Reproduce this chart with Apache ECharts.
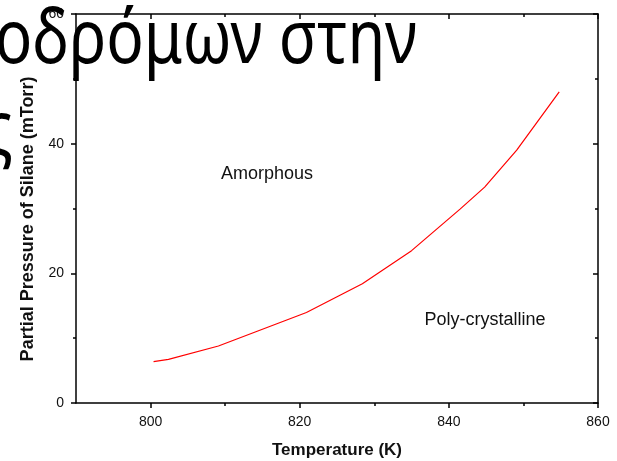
<!DOCTYPE html>
<html lang="en">
<head>
    <meta charset="UTF-8">
    <title>Partial Pressure of Silane</title>
    <script src="https://cdn.jsdelivr.net/npm/echarts@6.0.0/dist/echarts.min.js"></script>
    <style>
        html, body { margin: 0; padding: 0; background: #fff; }
        #main { width: 617px; height: 461px; }
    </style>
</head>
<body>
<div id="main"></div>
<script>
    // temperature (K) and partial pressure of silane (mTorr)
    var temps     = [800.4, 802.4, 809.1, 820.9, 828.4, 835.0, 841.5, 844.8, 849.1, 854.8];
    var pressures = [6.37,  6.74,  8.79,  13.96, 18.4,  23.5,  29.9,  33.3,  39.0,  48.0];

    // tick labels
    var xMajor = [800, 820, 840, 860];
    var xMinor = [810, 830, 850];

    var font = 'Liberation Sans';

    var lineData = [];
    for (var i = 0; i < temps.length; i++) {
        lineData.push([temps[i], pressures[i]]);
    }

    var myChart = echarts.init(document.getElementById('main'));

    // x axes: bottom major/minor + top major/minor (top ticks point inside)
    function xAxisOf(pos, ticks, len, showLine, showLabel) {
        return {
            type: 'value',
            position: pos,
            min: 790,
            max: 860,
            interval: 10,
            axisLine: { show: showLine, onZero: false, lineStyle: { color: '#000', width: 1.5 } },
            axisTick: { show: true, customValues: ticks, length: len, inside: pos == 'top',
                        lineStyle: { color: '#000', width: 1.5 } },
            axisLabel: { show: showLabel, customValues: xMajor, margin: 12,
                         fontFamily: font, fontSize: 14, color: '#111' },
            splitLine: { show: false }
        };
    }

    function yAxisOf(pos, showLabel) {
        return {
            type: 'value',
            position: pos,
            min: 0,
            max: 60,
            interval: 20,
            axisLine: { show: true, onZero: false, lineStyle: { color: '#000', width: 1.5 } },
            axisTick: { show: true, length: 5, inside: pos == 'right', lineStyle: { color: '#000', width: 1.5 } },
            minorTick: { show: true, splitNumber: 2, length: 3, lineStyle: { color: '#000', width: 1.5 } },
            minorSplitLine: { show: false },
            axisLabel: { show: showLabel, margin: 12, fontFamily: font, fontSize: 14, color: '#111' },
            splitLine: { show: false }
        };
    }

    var option = {
        animation: false,
        backgroundColor: '#fff',
        grid: { left: 76, right: 19, top: 14, bottom: 58, containLabel: false },
        xAxis: [
            xAxisOf('bottom', xMajor, 5, true, true),
            xAxisOf('bottom', xMinor, 3, false, false),
            xAxisOf('top', xMajor, 5, true, false),
            xAxisOf('top', xMinor, 3, false, false)
        ],
        yAxis: [
            yAxisOf('left', true),
            yAxisOf('right', false)
        ],
        series: [
            {
                type: 'line',
                xAxisIndex: 0,
                yAxisIndex: 0,
                data: lineData,
                showSymbol: false,
                symbol: 'none',
                smooth: false,
                lineStyle: { color: '#ff0000', width: 1.2 },
                z: 5
            }
        ],
        graphic: [
            {
                type: 'text', x: 337, y: 450, z: 10,
                style: { text: 'Temperature (K)', fontFamily: font, fontWeight: 'bold', fontSize: 17,
                         fill: '#111', align: 'center', verticalAlign: 'middle' }
            },
            {
                type: 'text', x: 28, y: 219, rotation: Math.PI / 2, z: 10,
                style: { text: 'Partial Pressure of Silane (mTorr)', fontFamily: font, fontWeight: 'bold',
                         fontSize: 18, fill: '#111', align: 'center', verticalAlign: 'middle' }
            },
            {
                type: 'text', x: 267, y: 174, z: 10,
                style: { text: 'Amorphous', fontFamily: font, fontSize: 18, fill: '#111',
                         align: 'center', verticalAlign: 'middle' }
            },
            {
                type: 'text', x: 485, y: 320, z: 10,
                style: { text: 'Poly-crystalline', fontFamily: font, fontSize: 18, fill: '#111',
                         align: 'center', verticalAlign: 'middle' }
            },
            // slide text laid over the figure
            {
                type: 'text', x: 417, y: 5, scaleX: 0.84, z: 100, zlevel: 1,
                style: { text: 'οδρόμων στην', fontFamily: 'Noto Sans', fontSize: 74, fill: '#000',
                         align: 'right', verticalAlign: 'top' }
            },
            {
                type: 'text', x: 13, y: 96, scaleX: 0.84, z: 100, zlevel: 1,
                style: { text: 'ς', fontFamily: 'Noto Sans', fontSize: 74, fill: '#000',
                         align: 'right', verticalAlign: 'top' }
            }
        ]
    };

    myChart.setOption(option);
</script>
</body>
</html>
